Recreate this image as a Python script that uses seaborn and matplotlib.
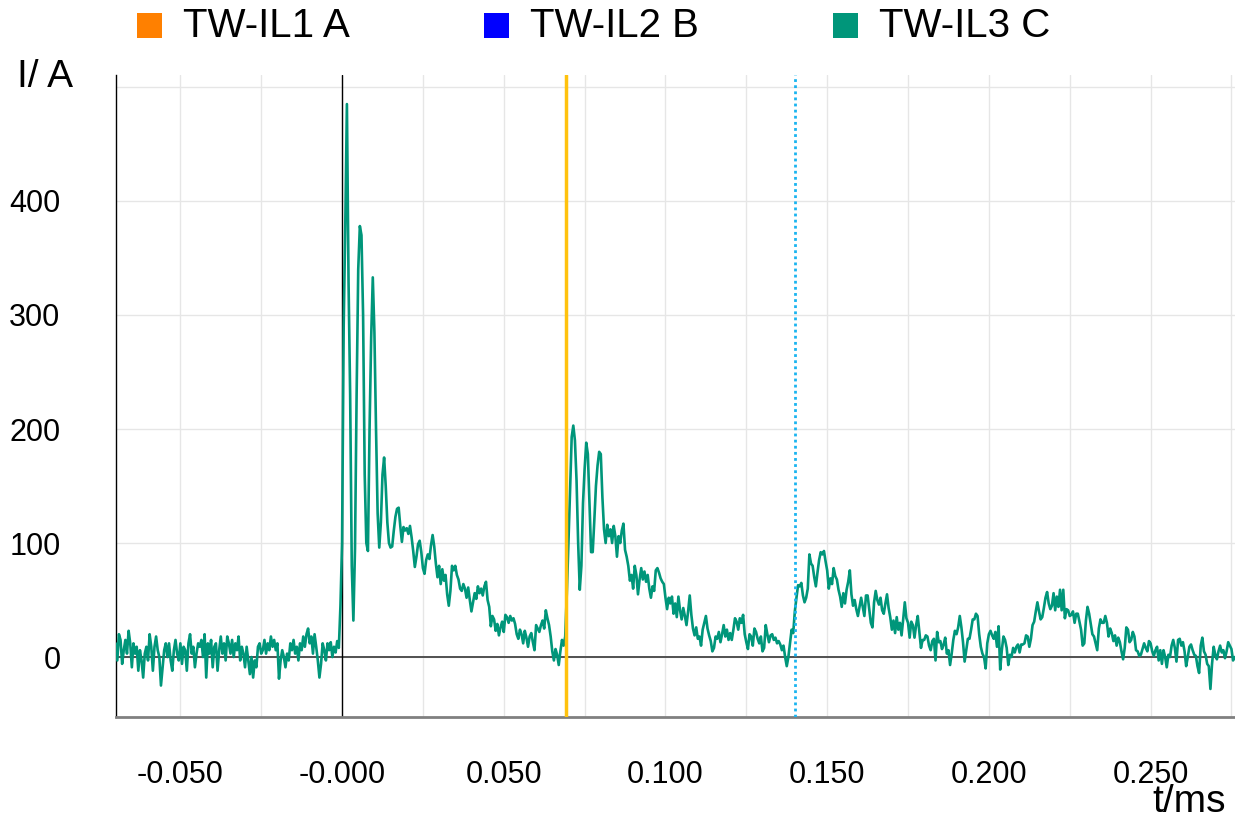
import numpy as np
import pandas as pd
import matplotlib
matplotlib.use("Agg")
import matplotlib.pyplot as plt
from matplotlib.patches import Rectangle
import seaborn as sns

# ---------------- data ----------------
T_START = -0.0700      # ms
DT = 0.0005            # ms sample interval

pre_trigger_a = [
    12, -3, 20, 15, -6, 6, 15, 3, 23, 12,
    -9, 12, 3, 9, -12, 6, -3, -18, 3, 9,
    -3, 20, 9, -12, 9, 18, 6, 0, -25, -9,
    6, 12, 0, 12, -3, -12, 6, 15, 3, -3,
    12, -6, 9, 6, -12, 12, 20, 3, 9, -9,
    3, 12, 9, 15, 0, 20, -18, 12, 3, 15,
    -9, 9, 12, -12, 6, 18, 3, 12, -3, 18,
    12, 3, 15, 0, 12, 6, 18, -3, 9, 3,
    -9, 9, -3, -15, 0, -18, -3, -9, 9, 12,
    3, 6, 15, 3, 12, 6, 18, 9, 15, 6,
    12, -19, -3, 6, 0, -9, 3, -3, 12, 6,
    15, 3, 9, -3, 12, 6, 18, 9, 20, 25,
    12, 18, 3, 20, 9, -3, -18, -6, 12, 6,
    -3, 12, 6, 13, 0, 9, 4, 14, 8, 45,
]
burst1_a = [
    100, 290, 380, 485, 330, 230, 80, 32, 95, 230,
    340, 378, 370, 300, 160, 100, 93, 200, 280, 333,
    285, 200, 126, 96, 118, 160, 175, 150, 118, 100,
    96, 97,
]
decay1_a = [
    111, 123, 130, 131, 115, 101, 114, 111, 113, 108,
    115, 105, 93, 79, 88, 99, 102, 92, 78, 73,
    85, 90, 86, 98, 107, 97, 82, 70, 80, 64,
    77, 67, 72, 55, 45, 58, 80, 76, 80, 72,
    68, 60, 58, 64, 60, 52, 61, 50, 40, 48,
    56, 51, 62, 56, 60, 54, 62, 66, 50, 44,
    27, 36, 33, 23, 29, 19, 26, 31, 22, 37,
    35, 30, 36, 32, 34, 29, 20, 16, 24, 20,
    12, 23, 17, 9, 18, 21, 13, 6, 28, 25,
    22, 28, 32, 25, 41, 34, 28, 18, 5, -3,
    7, 2, -7, 5, 15, 10, 18,
]
burst2_a = [
    56, 100, 146, 193, 203, 190, 155, 100, 59, 80,
    135, 165, 188, 178, 135, 92, 92, 120, 150, 168,
    180, 178, 140, 112, 100, 116, 106, 112, 100, 115,
    106, 88, 106, 100, 111, 117, 94, 88, 80, 67,
    72, 60, 80, 72, 55, 68, 78, 68, 75, 66,
    72, 60, 52, 62, 58, 76, 78, 74, 69, 66,
    64, 52, 42, 52, 47, 53, 38, 47, 35, 53,
    41, 33, 43, 36, 28, 40, 54, 37, 25, 19,
    26, 16, 18, 10, 24, 30, 36, 25, 19, 14,
    5, 8, 18, 16, 22, 13, 20, 28, 18, 24,
    15, 21, 15, 24, 34, 31, 24, 34, 30, 37,
    20, 13, 7, 20, 18, 10, 25, 22, 16, 12,
    18, 5, 8, 28, 20, 13, 19, 20, 15, 17,
    12, 14, 11, 6, 10, 0, -8, 0, 12, 24,
    21, 40, 52, 63, 62, 65, 54,
]
bump3_a = [
    48, 52, 60, 90, 82, 80, 70, 62, 74, 85,
    92, 90, 93, 84, 76, 60, 69, 64, 78, 71,
    68, 59, 53, 44, 56, 47, 59, 66, 76, 55,
    45, 50, 42, 36, 44, 52, 44, 36, 54, 54,
    42, 30, 26, 48, 58, 50, 46, 52, 41, 38,
    47, 55, 43, 35, 24, 32, 21, 35, 24, 30,
    19, 33, 48, 34, 30, 17, 31, 28, 17, 28,
    36, 22, 8, 15, 15, 19, 18, 10, 6, 14,
    16, -3, 22, 13, 14, 7, 11, 17, 3, 6,
    -7, 3, 15, 23, 20, 26, 36, 26, 13, -4,
    6, 16, 16, 24, 33, 33, 38, 36, 20, 9,
    3, 0, -10, 12, 20, 23, 19, 16, 22, 9,
    27, -11, 6, 18, 15, 8, -7, 2, 0, 8,
    4, 9, 11, 4,
]
tail_a = [
    11, 11, 12, 19, 18, 9, 16, 28, 31, 40,
    48, 40, 33, 35, 43, 52, 57, 47, 42, 45,
    56, 41, 53, 44, 59, 41, 59, 34, 42, 41,
    36, 37, 40, 30, 38, 38, 31, 24, 10, 12,
    32, 44, 38, 29, 20, 18, 12, 6, 25, 33,
    30, 30, 36, 30, 18, 25, 21, 14, 19, 10,
    17, 13, 5, -2, 8, 26, 24, 13, 15, 22,
    18, 6, 5, 1, 2, 7, 12, 8, 5, 14,
    12, 5, 1, 6, 9, -3, 6, -6, 6, 0,
    -9, 2, 0, 10, 15, 8, -4, 15, 16, 10,
    13, 5, -8, 0, 9, 11, 6, 2, 1, -8,
    -14, 10, 17, 5, 2, -6, -8, -28, -6, 9,
    2, -2, 5, 10, 4, 6, -1, 5, 13, 10,
    7, -3, 0,
]

cursor_a_t = 0.0693
cursor_b_t = 0.1400
legend_labels = ["TW-IL1 A", "TW-IL2 B", "TW-IL3 C"]
legend_colors = ["#FF8000", "#0000FF", "#00967A"]
x_tick_vals = [-0.05, 0.0, 0.05, 0.10, 0.15, 0.20, 0.25]
x_tick_labels = ["-0.050", "-0.000", "0.050", "0.100", "0.150", "0.200", "0.250"]
y_tick_vals = [0, 100, 200, 300, 400, 500]
y_tick_labels = ["0", "100", "200", "300", "400", ""]

current = np.array(pre_trigger_a + burst1_a + decay1_a + burst2_a + bump3_a + tail_a, dtype=float)
t = T_START + DT * np.arange(len(current))
df = pd.DataFrame({"t": t, "I": current})

# ---------------- plot ----------------
sns.set_theme(style="white")
plt.rcParams["font.family"] = ["Liberation Sans", "DejaVu Sans"]
plt.rcParams["text.color"] = "black"
plt.rcParams["xtick.color"] = "black"
plt.rcParams["ytick.color"] = "black"

W, H = 1235, 818
fig = plt.figure(figsize=(W / 100, H / 100), dpi=100)
ax = fig.add_axes([116 / W, 1 - 717 / H, (1235 - 116) / W, (717 - 75) / H])

ax.set_xlim(-0.0699, 0.2761)
ax.set_ylim(-52.6, 510.5)

ax.set_xticks(x_tick_vals)
ax.set_xticklabels(x_tick_labels)
ax.set_xticks(np.arange(-0.05, 0.2751, 0.025), minor=True)
ax.set_yticks(y_tick_vals)
ax.set_yticklabels(y_tick_labels)
ax.grid(True, which="both", color="#E6E6E6", linewidth=1.0)
ax.tick_params(axis="both", which="both", length=0, colors="black")
ax.tick_params(axis="x", labelsize=22, pad=31)
ax.tick_params(axis="y", labelsize=22, pad=40)

for s in ["top", "right"]:
    ax.spines[s].set_visible(False)
ax.spines["left"].set_color("black")
ax.spines["left"].set_linewidth(1.0)
ax.spines["bottom"].set_color("#808080")
ax.spines["bottom"].set_linewidth(2.0)

ax.axhline(0, color="#505050", linewidth=1.4, zorder=2)
ax.axvline(0, color="black", linewidth=1.0, zorder=2)

sns.lineplot(data=df, x="t", y="I", ax=ax, color=legend_colors[2], linewidth=1.9,
             zorder=3, sort=False)

ax.axvline(cursor_a_t, color="#FFC20E", linewidth=2.5, zorder=4)
ax.axvline(cursor_b_t, color="#1AB4F0", linewidth=2.0, linestyle=(0, (1, 1.2)), zorder=4)

ax.set_xlabel("")
ax.set_ylabel("")

# axis titles
fig.text(17 / W, 1 - 77 / H, "I/ A", fontsize=28, ha="left", va="center", color="black")
fig.text(1226 / W, 1 - 812 / H, "t/ms", fontsize=28, ha="right", va="baseline", color="black")

# legend
leg_x = [137, 484, 833]
for x0, lab, col in zip(leg_x, legend_labels, legend_colors):
    fig.patches.append(Rectangle((x0 / W, 1 - 38 / H), 25 / W, 25 / H,
                                 transform=fig.transFigure, facecolor=col,
                                 edgecolor="none"))
    fig.text((x0 + 46) / W, 1 - 26 / H, lab, fontsize=29, ha="left", va="center",
             color="black")

fig.savefig("out.png", dpi=100)
